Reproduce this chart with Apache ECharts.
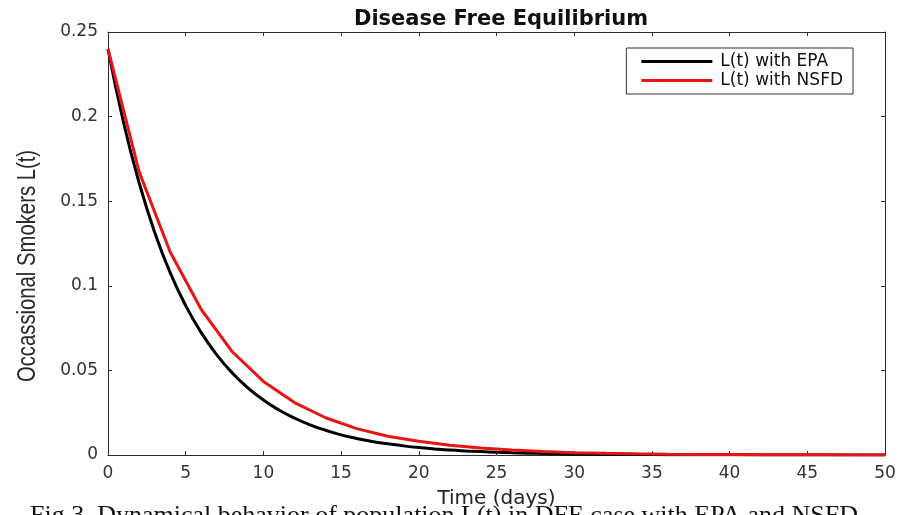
<!DOCTYPE html>
<html>
<head>
<meta charset="utf-8">
<script src="https://cdn.jsdelivr.net/npm/echarts@6/dist/echarts.min.js"></script>
<style>
  html, body { margin: 0; padding: 0; background: #fff; }
  #main { width: 901px; height: 515px; }
</style>
</head>
<body>
<div id="main"></div>
<script>
// L(t) with EPA, every day
var epaDays = [0, 1, 2, 3, 4, 5, 6, 7, 8, 9, 10, 11, 12, 13, 14, 15, 16, 17, 18, 19, 20,
  21, 22, 23, 24, 25, 26, 27, 28, 29, 30, 32, 34, 36, 38, 40, 45, 50];
var epaValues = [0.24, 0.1965, 0.161, 0.1317, 0.1078, 0.0883, 0.0723, 0.0592, 0.0485, 0.0397, 0.0325,
  0.0266, 0.0218, 0.0178, 0.0146, 0.0119, 0.0098, 0.008, 0.0066, 0.0054, 0.0044,
  0.0036, 0.0029, 0.0024, 0.002, 0.0016, 0.0013, 0.0011, 0.0009, 0.0007, 0.0006,
  0.0004, 0.0003, 0.0002, 0.00012, 0.00008, 0.00003, 0.00001];

// L(t) with NSFD, step of 2 days
var nsfdDays = [0, 2, 4, 6, 8, 10, 12, 14, 16, 18, 20, 22, 24, 26, 28, 30, 32, 34, 36, 38, 40, 42, 44, 46, 48, 50];
var nsfdValues = [0.24, 0.1675, 0.12, 0.086, 0.061, 0.0435, 0.031, 0.022, 0.0156, 0.0111, 0.0081,
  0.0058, 0.0041, 0.0029, 0.002, 0.0014, 0.001, 0.0007, 0.0005, 0.00036, 0.00026,
  0.00018, 0.00013, 0.00009, 0.00006, 0.00004];

var xTicks = [0, 5, 10, 15, 20, 25, 30, 35, 40, 45, 50];
var yTicks = [0, 0.05, 0.1, 0.15, 0.2, 0.25];

function pairs(xs, ys) {
  var out = [];
  for (var i = 0; i < xs.length; i++) out.push([xs[i], ys[i]]);
  return out;
}

var font = 'DejaVu Sans, Liberation Sans, sans-serif';
var axisColor = '#2b2b2b';

// 边框上的刻度轴（无标签）
function boxAxis(pos, min, max, interval) {
  return {
    type: 'value', position: pos,
    min: min, max: max, interval: interval,
    axisLine: { show: true, onZero: false, lineStyle: { color: axisColor, width: 1 } },
    axisTick: { show: true, inside: true, length: 4, lineStyle: { color: axisColor } },
    axisLabel: { show: false },
    splitLine: { show: false }
  };
}

var myChart = echarts.init(document.getElementById('main'));
var option = {
  backgroundColor: '#fff',
  animation: false,
  title: {
    text: 'Disease Free Equilibrium',
    left: 496,
    textAlign: 'center',
    top: 4,
    textStyle: { fontFamily: font, fontSize: 21, fontWeight: 'bold', color: '#111' }
  },
  legend: {
    right: 48,
    top: 48,
    orient: 'vertical',
    icon: 'rect',
    itemWidth: 71,
    itemHeight: 3,
    itemGap: 2,
    padding: [5, 10, 5, 15],
    borderColor: '#333',
    borderWidth: 1,
    backgroundColor: '#fff',
    textStyle: { fontFamily: font, fontSize: 17, color: '#111', padding: [0, 0, 0, 3] },
    data: ['L(t) with EPA', 'L(t) with NSFD']
  },
  grid: { left: 108, right: 16, top: 32, bottom: 60, show: false, outerBoundsMode: 'none' },
  xAxis: [{
    type: 'value',
    min: 0, max: 50, interval: 5,
    name: 'Time (days)',
    nameLocation: 'middle',
    nameGap: 34,
    nameTextStyle: { fontFamily: font, fontSize: 20, color: '#222' },
    axisLine: { onZero: false, lineStyle: { color: axisColor, width: 1 } },
    axisTick: { inside: true, length: 4, lineStyle: { color: axisColor } },
    axisLabel: {
      margin: 10, fontFamily: font, fontSize: 17, color: '#333',
      formatter: function (v) { return xTicks.indexOf(v) >= 0 ? String(v) : ''; }
    },
    splitLine: { show: false }
  }, boxAxis('top', 0, 50, 5)],
  yAxis: [{
    type: 'value',
    min: 0, max: 0.25, interval: 0.05,
    axisLine: { show: true, onZero: false, lineStyle: { color: axisColor, width: 1 } },
    axisTick: { show: true, inside: true, length: 4, lineStyle: { color: axisColor } },
    axisLabel: {
      margin: 10, fontFamily: font, fontSize: 17, color: '#333',
      formatter: function (v) {
        var r = Math.round(v * 100) / 100;
        return yTicks.indexOf(r) >= 0 ? String(r) : '';
      }
    },
    splitLine: { show: false }
  }, boxAxis('right', 0, 0.25, 0.05)],
  series: [{
    name: 'L(t) with EPA',
    type: 'line',
    smooth: true,
    showSymbol: false,
    symbol: 'none',
    color: '#000',
    lineStyle: { color: '#000', width: 3 },
    data: pairs(epaDays, epaValues)
  }, {
    name: 'L(t) with NSFD',
    type: 'line',
    showSymbol: false,
    symbol: 'none',
    color: '#e81515',
    lineStyle: { color: '#e81515', width: 3 },
    data: pairs(nsfdDays, nsfdValues)
  }],
  graphic: [{
    // y轴标题（窄体）
    type: 'text',
    x: 15,
    y: 266,
    rotation: Math.PI / 2,
    scaleX: 0.78,
    style: {
      text: 'Occassional Smokers L(t)',
      fontFamily: 'Liberation Sans, Arial, sans-serif',
      fontSize: 26,
      fill: '#2a2a2a',
      align: 'center',
      verticalAlign: 'top'
    }
  }, {
    type: 'text',
    left: 30,
    top: 503,
    z: -1,
    style: {
      text: 'Fig 3. Dynamical behavior of population L(t) in DFE case with EPA and NSFD',
      fontFamily: 'Liberation Serif, Times New Roman, serif',
      fontSize: 26,
      fill: '#111'
    }
  }]
};

// 使用刚指定的配置项和数据显示图表。
myChart.setOption(option);
</script>
</body>
</html>
